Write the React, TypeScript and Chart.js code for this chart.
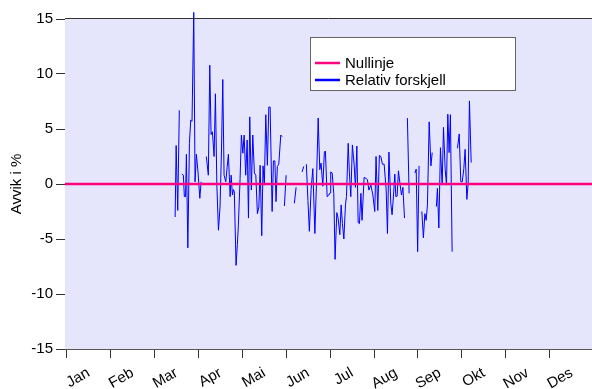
import React, { useEffect, useRef } from 'react';
import { Chart, registerables } from 'chart.js';

Chart.register(...registerables);

const MONTHS = ['Jan', 'Feb', 'Mar', 'Apr', 'Mai', 'Jun', 'Jul', 'Aug', 'Sep', 'Okt', 'Nov', 'Des'];
const Y_TICKS = [-15, -10, -5, 0, 5, 10, 15];
const X_MIN = -1.2;
const X_MAX = 363.9;
const SERIES_LABELS = ['Nullinje', 'Relativ forskjell'];
const ZERO_VALUES = [0, 0];

// day of year (0 = 1 Jan) and relative difference in %
const DAYS = [
  75.1, 75.8, 76.9, 78.0, 78.9, 79.7, 80.8, 81.5, 82.3, 82.9,
  83.9, 85.0, 85.9, 86.8, 88.0, 88.9, 89.8, 91.0, 92.2, 93.1,
  95.0, 96.7, 98.1, 99.1, 100.0, 100.9, 102.1, 103.0, 104.0, 105.1,
  106.2, 107.2, 108.1, 109.0, 110.2, 111.1, 112.0, 113.2, 113.9, 114.8,
  115.5, 116.1, 117.3, 118.2, 118.9, 120.1, 121.0, 122.0, 122.9, 124.0,
  125.0, 125.9, 126.8, 127.9, 128.9, 130.0, 131.0, 132.1, 133.1, 134.0,
  135.1, 136.0, 136.9, 137.9, 139.0, 140.0, 140.9, 142.3, 143.2, 144.2,
  145.0, 145.9, 146.9, 148.3, 149.2, 150.0, 150.8, 152.0, 155.0, 157.7,
  158.9, 161.0, 163.1, 164.2, 165.1, 166.0, 167.1, 168.1, 169.3, 170.5,
  171.9, 173.0, 174.2, 175.3, 176.2, 177.4, 178.5, 179.2, 180.4, 181.6,
  182.4, 182.9, 183.9, 185.0, 185.9, 187.1, 188.0, 189.2, 190.1, 191.0,
  192.0, 193.1, 193.8, 195.0, 195.8, 196.8, 197.9, 199.1, 200.0, 201.0,
  201.9, 202.8, 203.8, 204.6, 206.0, 207.4, 208.3, 209.3, 210.7, 212.1,
  213.4, 214.3, 215.5, 216.6, 217.6, 218.7, 219.9, 221.3, 222.2, 223.2,
  224.5, 225.4, 226.4, 227.3, 228.0, 228.9, 229.8, 231.0, 231.9, 232.9,
  234.0, 235.0, 236.0, 237.2, 239.0, 241.2, 242.1, 243.1, 244.1, 245.0,
  246.0, 247.1, 248.1, 249.0, 249.9, 251.1, 252.3, 253.2, 254.7, 256.1,
  256.8, 257.8, 258.9, 260.1, 261.0, 262.2, 263.1, 264.0, 264.9, 265.8,
  267.0, 269.0, 270.7, 271.9, 273.0, 274.0, 275.1, 276.0, 277.2, 278.1,
  279.0, 280.2,
];

const REL_DIFF: (number | null)[] = [
  -3.0, 3.5, -2.4, 6.7, null, 0.9, 0.8, -1.15, -1.15, 2.7,
  -5.8, 3.7, 5.8, 5.7, 15.6, 0.2, 2.7, 1.0, -1.3, 0.2,
  null, 2.5, 0.8, 10.8, 4.5, 4.75, 2.5, 8.2, -0.1, -4.2,
  -2.1, 3.0, 9.5, 0.8, 0.2, 1.5, 2.7, -1.15, 0.8, -1.0,
  -0.5, -0.7, -7.4, -5.5, -3.8, 0.5, 4.45, 2.8, 4.45, 0.8,
  4.0, -3.1, 6.1, -0.55, 4.45, 1.0, 0.8, -2.7, -2.1, 1.7,
  -4.7, 1.65, -0.1, 6.3, 1.7, 7.0, 7.0, -2.5, 2.1, 2.1,
  -1.6, 1.6, 1.8, 4.45, 4.3, null, -2.0, 0.8, null, -1.75,
  -0.3, null, 1.1, 1.6, null, 1.8, -1.5, -4.3, -0.5, 1.4,
  -4.5, 0.0, 6.0, 1.3, 1.9, -0.2, 2.9, 3.0, -1.15, -1.0,
  -0.8, 1.1, 1.0, -0.85, -6.85, -2.6, -3.1, -4.6, -1.9, -3.6,
  -5.0, -1.9, -1.15, 3.7, 1.1, -1.15, 3.55, 1.8, -0.3, 3.45,
  -3.5, -3.6, -0.85, -3.3, 0.6, 0.5, 0.4, -0.55, -0.1, -1.0,
  -2.5, 2.5, -2.4, 2.6, 2.5, 1.8, 1.8, -0.55, -4.5, 2.9,
  -1.75, -2.8, -1.0, 0.9, -1.15, -1.1, 1.2, -0.1, -1.0, -0.3,
  -3.1, null, 6.0, -0.85, null, 1.0, 1.35, -6.15, 1.65, null,
  -2.5, -4.9, -2.7, -3.3, -1.9, 5.65, 1.65, 2.85, null, -2.05,
  -0.4, -4.0, 3.3, -0.1, 5.15, 1.3, -0.1, 6.35, 2.85, 6.3,
  -6.15, null, 3.25, 4.55, 0.2, 0.2, 1.4, 3.15, -1.4, 0.05,
  7.55, 1.95,
];

const FONT = 'Liberation Sans, Arial, Helvetica, sans-serif';
const PLOT_BG = 'rgb(229,229,252)';
const ZERO_COLOR = '#FF0080';
const SERIES_COLOR = '#0000FF';

const decorPlugin = {
  id: 'decor',
  beforeDraw(chart: any) {
    const { ctx, chartArea: a } = chart;
    ctx.save();
    ctx.fillStyle = '#ffffff';
    ctx.fillRect(0, 0, chart.width, chart.height);
    ctx.fillStyle = PLOT_BG;
    ctx.fillRect(a.left, a.top, a.right - a.left, a.bottom - a.top);
    ctx.restore();
  },
  afterDatasetsDraw(chart: any) {
    const { ctx, chartArea: a } = chart;
    ctx.save();
    ctx.strokeStyle = '#333333';
    ctx.lineWidth = 1;
    ctx.beginPath();
    ctx.moveTo(a.left, a.top - 0.5);
    ctx.lineTo(a.right, a.top - 0.5);
    ctx.stroke();
    ctx.restore();
  },
  afterDraw(chart: any) {
    const { ctx } = chart;
    const bx = 310.5, by = 37.5, bw = 205, bh = 53;
    ctx.save();
    ctx.fillStyle = '#ffffff';
    ctx.fillRect(bx, by, bw, bh);
    ctx.strokeStyle = '#666666';
    ctx.lineWidth = 1;
    ctx.strokeRect(bx, by, bw, bh);
    const colors = [ZERO_COLOR, SERIES_COLOR];
    const rows = [63, 80];
    ctx.font = `15px ${FONT}`;
    ctx.textBaseline = 'middle';
    ctx.textAlign = 'left';
    SERIES_LABELS.forEach((lab, i) => {
      ctx.strokeStyle = colors[i];
      ctx.lineWidth = 2.5;
      ctx.beginPath();
      ctx.moveTo(315, rows[i]);
      ctx.lineTo(340, rows[i]);
      ctx.stroke();
      ctx.fillStyle = '#000000';
      ctx.fillText(lab, 345, rows[i] + 1);
    });
    ctx.restore();
  },
};

export default function App() {
  const ref = useRef<HTMLCanvasElement | null>(null);

  useEffect(() => {
    document.body.style.margin = '0';
    const canvas = ref.current;
    if (!canvas) return;
    const chart = new Chart(canvas, {
      type: 'line',
      data: {
        datasets: [
          {
            label: SERIES_LABELS[0],
            data: ZERO_VALUES.map((v, i) => ({ x: i === 0 ? X_MIN : X_MAX, y: v })),
            borderColor: ZERO_COLOR,
            borderWidth: 2.5,
            pointRadius: 0,
            order: 0,
          },
          {
            label: SERIES_LABELS[1],
            data: DAYS.map((d, i) => ({ x: d, y: REL_DIFF[i] })),
            borderColor: SERIES_COLOR,
            borderWidth: 1,
            pointRadius: 0,
            spanGaps: false,
            tension: 0,
            clip: false,
            order: 1,
          },
        ],
      },
      options: {
        responsive: false,
        animation: false,
        devicePixelRatio: 1,
        layout: { padding: { top: 19, right: 0, left: 0, bottom: 0 } },
        plugins: {
          legend: { display: false },
          tooltip: { enabled: false },
        },
        scales: {
          x: {
            type: 'linear',
            min: X_MIN,
            max: X_MAX,
            afterBuildTicks: (s: any) => {
              s.ticks = MONTHS.map((_, i) => ({ value: (i * 365) / 12 }));
            },
            afterFit: (s: any) => {
              s.height = 40;
            },
            grid: { drawOnChartArea: false, drawTicks: true, tickLength: 9, tickColor: '#333333', tickWidth: 1 },
            border: { display: true, color: '#555555', width: 1 },
            ticks: {
              autoSkip: false,
              minRotation: 30,
              maxRotation: 30,
              labelOffset: 22,
              padding: 6,
              color: '#000000',
              font: { size: 15, family: FONT },
              callback: (_v: any, i: number) => MONTHS[i],
            },
          },
          y: {
            min: -15,
            max: 15,
            afterBuildTicks: (s: any) => {
              s.ticks = Y_TICKS.map((v) => ({ value: v }));
            },
            afterFit: (s: any) => {
              s.width = 65;
            },
            grid: { drawOnChartArea: false, drawTicks: true, tickLength: 9, tickColor: '#333333', tickWidth: 1 },
            border: { display: false },
            ticks: {
              padding: 3,
              color: '#000000',
              font: { size: 15, family: FONT },
              callback: (v: any) => String(v),
            },
            title: {
              display: true,
              text: 'Avvik i %',
              color: '#000000',
              font: { size: 15, family: FONT },
              padding: { top: 8, bottom: 0 },
            },
          },
        },
      },
      plugins: [decorPlugin],
    } as any);
    return () => chart.destroy();
  }, []);

  return (
    <div style={{ width: 592, height: 389 }}>
      <canvas ref={ref} width={592} height={389} style={{ display: 'block' }} />
    </div>
  );
}
